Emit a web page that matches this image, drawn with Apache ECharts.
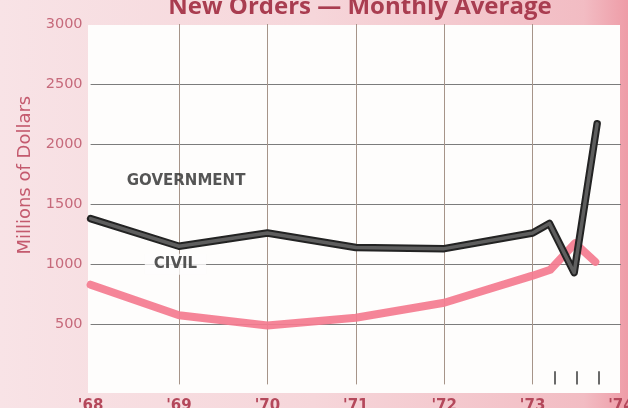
<!DOCTYPE html>
<html>
<head>
<meta charset="utf-8">
<script src="https://cdn.jsdelivr.net/npm/echarts@6/dist/echarts.min.js"></script>
<style>
html,body{margin:0;padding:0;background:#f6dde0;overflow:hidden;}
#chart{width:628px;height:408px;}
</style>
</head>
<body>
<div id="chart"></div>
<script>
// ---- data ----
const titleText = 'New Orders \u2014 Monthly Average';
const yAxisName = 'Millions of Dollars';
const xTickLabels = ["'68", "'69", "'70", "'71", "'72", "'73", "'74"];
const yTickValues = [0, 500, 1000, 1500, 2000, 2500, 3000];
const governmentYears  = [1968, 1969, 1970, 1971, 1972, 1973, 1973.19, 1973.47, 1973.73];
const governmentValues = [1380, 1150, 1260, 1140, 1130, 1260, 1340, 930, 2170];
const civilYears  = [1968, 1969, 1970, 1971, 1972, 1973, 1973.2, 1973.48, 1973.71];
const civilValues = [830, 575, 490, 555, 680, 905, 955, 1175, 1020];
const quarterTicks = [1973.25, 1973.5, 1973.75];
const seriesLabels = ['GOVERNMENT', 'CIVIL'];
const seriesLabelPos = [[1969.08, 1692], [1968.96, 1000]];

const pairs = (xs, ys) => xs.map((x, i) => [x, ys[i]]);

const chart = echarts.init(document.getElementById('chart'), null, {renderer: 'canvas'});
chart.setOption({
  animation: false,
  backgroundColor: {
    type: 'linear', x: 0, y: 0, x2: 1, y2: 0,
    colorStops: [
      {offset: 0, color: '#f8e3e6'},
      {offset: 0.5, color: '#f6d6da'},
      {offset: 0.93, color: '#f2bcc3'},
      {offset: 1, color: '#ee9ca7'}
    ]
  },
  title: {
    text: titleText,
    left: 355,
    textAlign: 'center',
    top: -10,
    textStyle: {fontFamily: 'Open Sans', fontWeight: 'bold', fontSize: 24, color: '#a93d50'}
  },
  graphic: [{
    type: 'rect', left: 88, top: 25, z: -10,
    shape: {width: 532, height: 368},
    style: {fill: '#fefdfc'}
  }],
  grid: {left: 90.6, right: 7, top: 24, bottom: 23.6, containLabel: false, outerBoundsMode: 'none'},
  xAxis: {
    type: 'value', min: 1968, max: 1974, interval: 1,
    axisLine: {show: false}, axisTick: {show: false},
    axisLabel: {
      margin: 14, color: '#b4485b', fontSize: 15, fontWeight: 'bold',
      fontFamily: 'DejaVu Sans',
      formatter: v => xTickLabels[Math.round(v - 1968)]
    },
    splitLine: {show: true, showMinLine: false, showMaxLine: false,
      lineStyle: {color: '#a69489', width: 1}}
  },
  yAxis: {
    type: 'value', min: yTickValues[0], max: yTickValues[yTickValues.length - 1], interval: 500,
    name: yAxisName, nameLocation: 'middle', nameGap: 55,
    nameTextStyle: {fontFamily: 'DejaVu Sans', fontSize: 18, color: '#c45a6e', padding: [0, 0, 0, 58]},
    axisLine: {show: false}, axisTick: {show: false},
    axisLabel: {
      margin: 8, color: '#c66a7b', fontSize: 14.5, fontFamily: 'DejaVu Sans',
      formatter: v => (v === 0 ? '' : String(v))
    },
    splitLine: {show: true, showMinLine: false, showMaxLine: false,
      lineStyle: {color: '#7c7c7c', width: 1}}
  },
  series: [
    {
      name: 'Civil', type: 'line', data: pairs(civilYears, civilValues),
      symbol: 'none', z: 3,
      lineStyle: {color: '#f47b8f', width: 8, opacity: 0.92, cap: 'round', join: 'round'},
      markLine: {
        silent: true, symbol: 'none', label: {show: false},
        lineStyle: {color: '#6a6a6a', width: 2, type: 'solid', opacity: 1},
        data: quarterTicks.map(q => [{coord: [q, 0]}, {coord: [q, 110]}])
      }
    },
    {
      name: 'Government', type: 'line', data: pairs(governmentYears, governmentValues),
      symbol: 'none', z: 4,
      lineStyle: {color: '#232323', width: 7.5, cap: 'round', join: 'round'}
    },
    {
      name: 'Government inner', type: 'line', data: pairs(governmentYears, governmentValues),
      symbol: 'none', z: 5,
      lineStyle: {color: '#5e5e5e', width: 3.5, cap: 'round', join: 'round'}
    },
    {
      name: 'Labels', type: 'scatter', z: 6, symbolSize: 1,
      itemStyle: {color: 'transparent'},
      data: seriesLabels.map((t, i) => ({
        name: t, value: seriesLabelPos[i],
        label: i === 1 ? {backgroundColor: '#fefdfc', padding: [3, 9]} : {}
      })),
      label: {
        show: true, position: 'inside', formatter: '{b}',
        fontFamily: 'DejaVu Sans', fontWeight: 'bold', fontSize: 15, color: '#2a2a2a'
      },
      labelLayout: {hideOverlap: false}
    }
  ]
});
</script>
</body>
</html>
